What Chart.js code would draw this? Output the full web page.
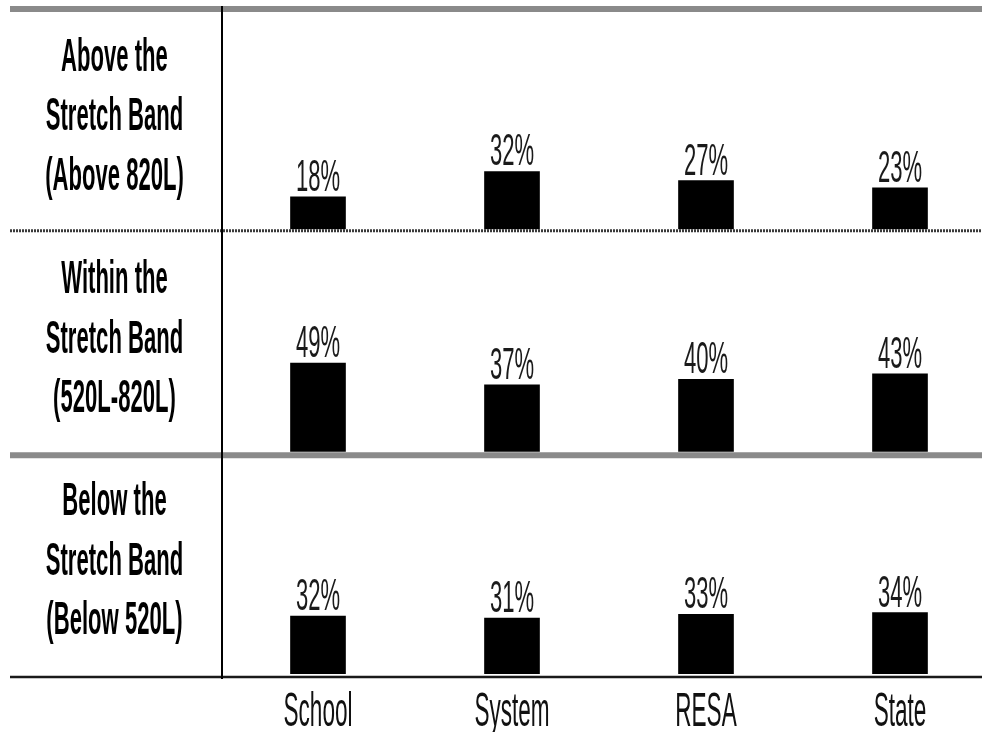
<!DOCTYPE html>
<html>
<head>
<meta charset="utf-8">
<title>Stretch Band Distribution</title>
<script src="https://cdn.jsdelivr.net/npm/chart.js@4.4.1/dist/chart.umd.min.js"></script>
<style>
  html, body { margin: 0; padding: 0; overflow: hidden; background: #ffffff; }
  canvas { display: block; }
</style>
</head>
<body>
<canvas id="chart" width="1000" height="732"></canvas>
<script>
// Comparison groups along the bottom
const categories = ['School', 'System', 'RESA', 'State'];

// Row captions for each Lexile band
const bandLabels = [
  ['Above the', 'Stretch Band', '(Above 820L)'],
  ['Within the', 'Stretch Band', '(520L-820L)'],
  ['Below the', 'Stretch Band', '(Below 520L)']
];

// Percent of students in each band
const aboveBand  = [18, 32, 27, 23];
const withinBand = [49, 37, 40, 43];
const belowBand  = [32, 31, 33, 34];

const FONT = "'Liberation Sans', Arial, Helvetica, sans-serif";

// Tall, narrow lettering: draw with a horizontal squeeze
function drawNarrowText(ctx, text, x, y, font, color, squeeze) {
  ctx.save();
  ctx.translate(x, y);
  ctx.scale(squeeze, 1);
  ctx.font = font;
  ctx.fillStyle = color;
  ctx.textAlign = 'center';
  ctx.textBaseline = 'alphabetic';
  ctx.fillText(text, 0, 0);
  ctx.restore();
}

// Band dividers, the row-caption column rule and all the text
const bandDecor = {
  id: 'bandDecor',
  beforeDatasetsDraw(chart) {
    const ctx = chart.ctx;
    const area = chart.chartArea;
    const yA = chart.scales.yAbove, yW = chart.scales.yWithin, yB = chart.scales.yBelow;
    const left = 10, right = 982;
    ctx.save();
    // thick grey rule at the top
    ctx.strokeStyle = '#8a8a8a';
    ctx.lineWidth = 6;
    ctx.beginPath(); ctx.moveTo(left, yA.top + 2); ctx.lineTo(right, yA.top + 2); ctx.stroke();
    // dotted rule between the upper two bands
    ctx.strokeStyle = '#3a3a3a';
    ctx.lineWidth = 3;
    ctx.setLineDash([2, 1]);
    ctx.beginPath(); ctx.moveTo(left, yA.bottom + 1.5); ctx.lineTo(right, yA.bottom + 1.5); ctx.stroke();
    ctx.setLineDash([]);
    // thick grey rule between the lower two bands
    ctx.strokeStyle = '#8a8a8a';
    ctx.lineWidth = 6;
    ctx.beginPath(); ctx.moveTo(left, yW.bottom + 3.5); ctx.lineTo(right, yW.bottom + 3.5); ctx.stroke();
    // baseline
    ctx.strokeStyle = '#1a1a1a';
    ctx.lineWidth = 2.5;
    ctx.beginPath(); ctx.moveTo(left, yB.bottom + 3); ctx.lineTo(right, yB.bottom + 3); ctx.stroke();
    // vertical rule separating captions from bars
    ctx.strokeStyle = '#000000';
    ctx.lineWidth = 2;
    ctx.beginPath(); ctx.moveTo(area.left + 1, yA.top - 1); ctx.lineTo(area.left + 1, yB.bottom + 5); ctx.stroke();
    ctx.restore();

    // row captions
    const capX = (left + area.left) / 2 - 1;
    [yA, yW, yB].forEach((scale, i) => {
      const mid = (scale.top + scale.bottom) / 2 + 12;
      bandLabels[i].forEach((line, j) => {
        drawNarrowText(ctx, line, capX, mid + (j - 1) * 59.5, 'bold 47px ' + FONT, '#000000', 0.47);
      });
    });

    // category labels under the baseline
    const xs = chart.scales.x;
    xs.getLabels().forEach((label, i) => {
      drawNarrowText(ctx, label, xs.getPixelForTick(i), 726, '48px ' + FONT, '#111111', 0.47);
    });
  },
  afterDatasetsDraw(chart) {
    const ctx = chart.ctx;
    chart.data.datasets.forEach((ds, di) => {
      const meta = chart.getDatasetMeta(di);
      meta.data.forEach((bar, i) => {
        drawNarrowText(ctx, ds.data[i] + '%', bar.x, bar.y - 6, '45px ' + FONT, '#1a1a1a', 0.49);
      });
    });
  }
};

const bandScale = (weight) => ({
  type: 'linear',
  display: false,
  position: 'left',
  stack: 'bands',
  stackWeight: 1,
  weight: weight,
  min: 0,
  max: 123
});

const barStyle = {
  backgroundColor: '#000000',
  borderWidth: 0,
  barThickness: 55,
  grouped: false
};

new Chart(document.getElementById('chart'), {
  type: 'bar',
  data: {
    labels: categories,
    datasets: [
      Object.assign({ label: 'Above the Stretch Band', data: aboveBand,  yAxisID: 'yAbove' }, barStyle),
      Object.assign({ label: 'Within the Stretch Band', data: withinBand, yAxisID: 'yWithin' }, barStyle),
      Object.assign({ label: 'Below the Stretch Band', data: belowBand,  yAxisID: 'yBelow' }, barStyle)
    ]
  },
  options: {
    responsive: false,
    animation: false,
    devicePixelRatio: 1,
    layout: { padding: { left: 221, right: 3, top: 7, bottom: 58 } },
    scales: {
      x: { type: 'category', display: false, offset: true },
      yAbove: bandScale(3),
      yWithin: bandScale(2),
      yBelow: bandScale(1)
    },
    plugins: {
      legend: { display: false },
      tooltip: { enabled: false },
      colors: { enabled: false }
    }
  },
  plugins: [bandDecor]
});
</script>
</body>
</html>
